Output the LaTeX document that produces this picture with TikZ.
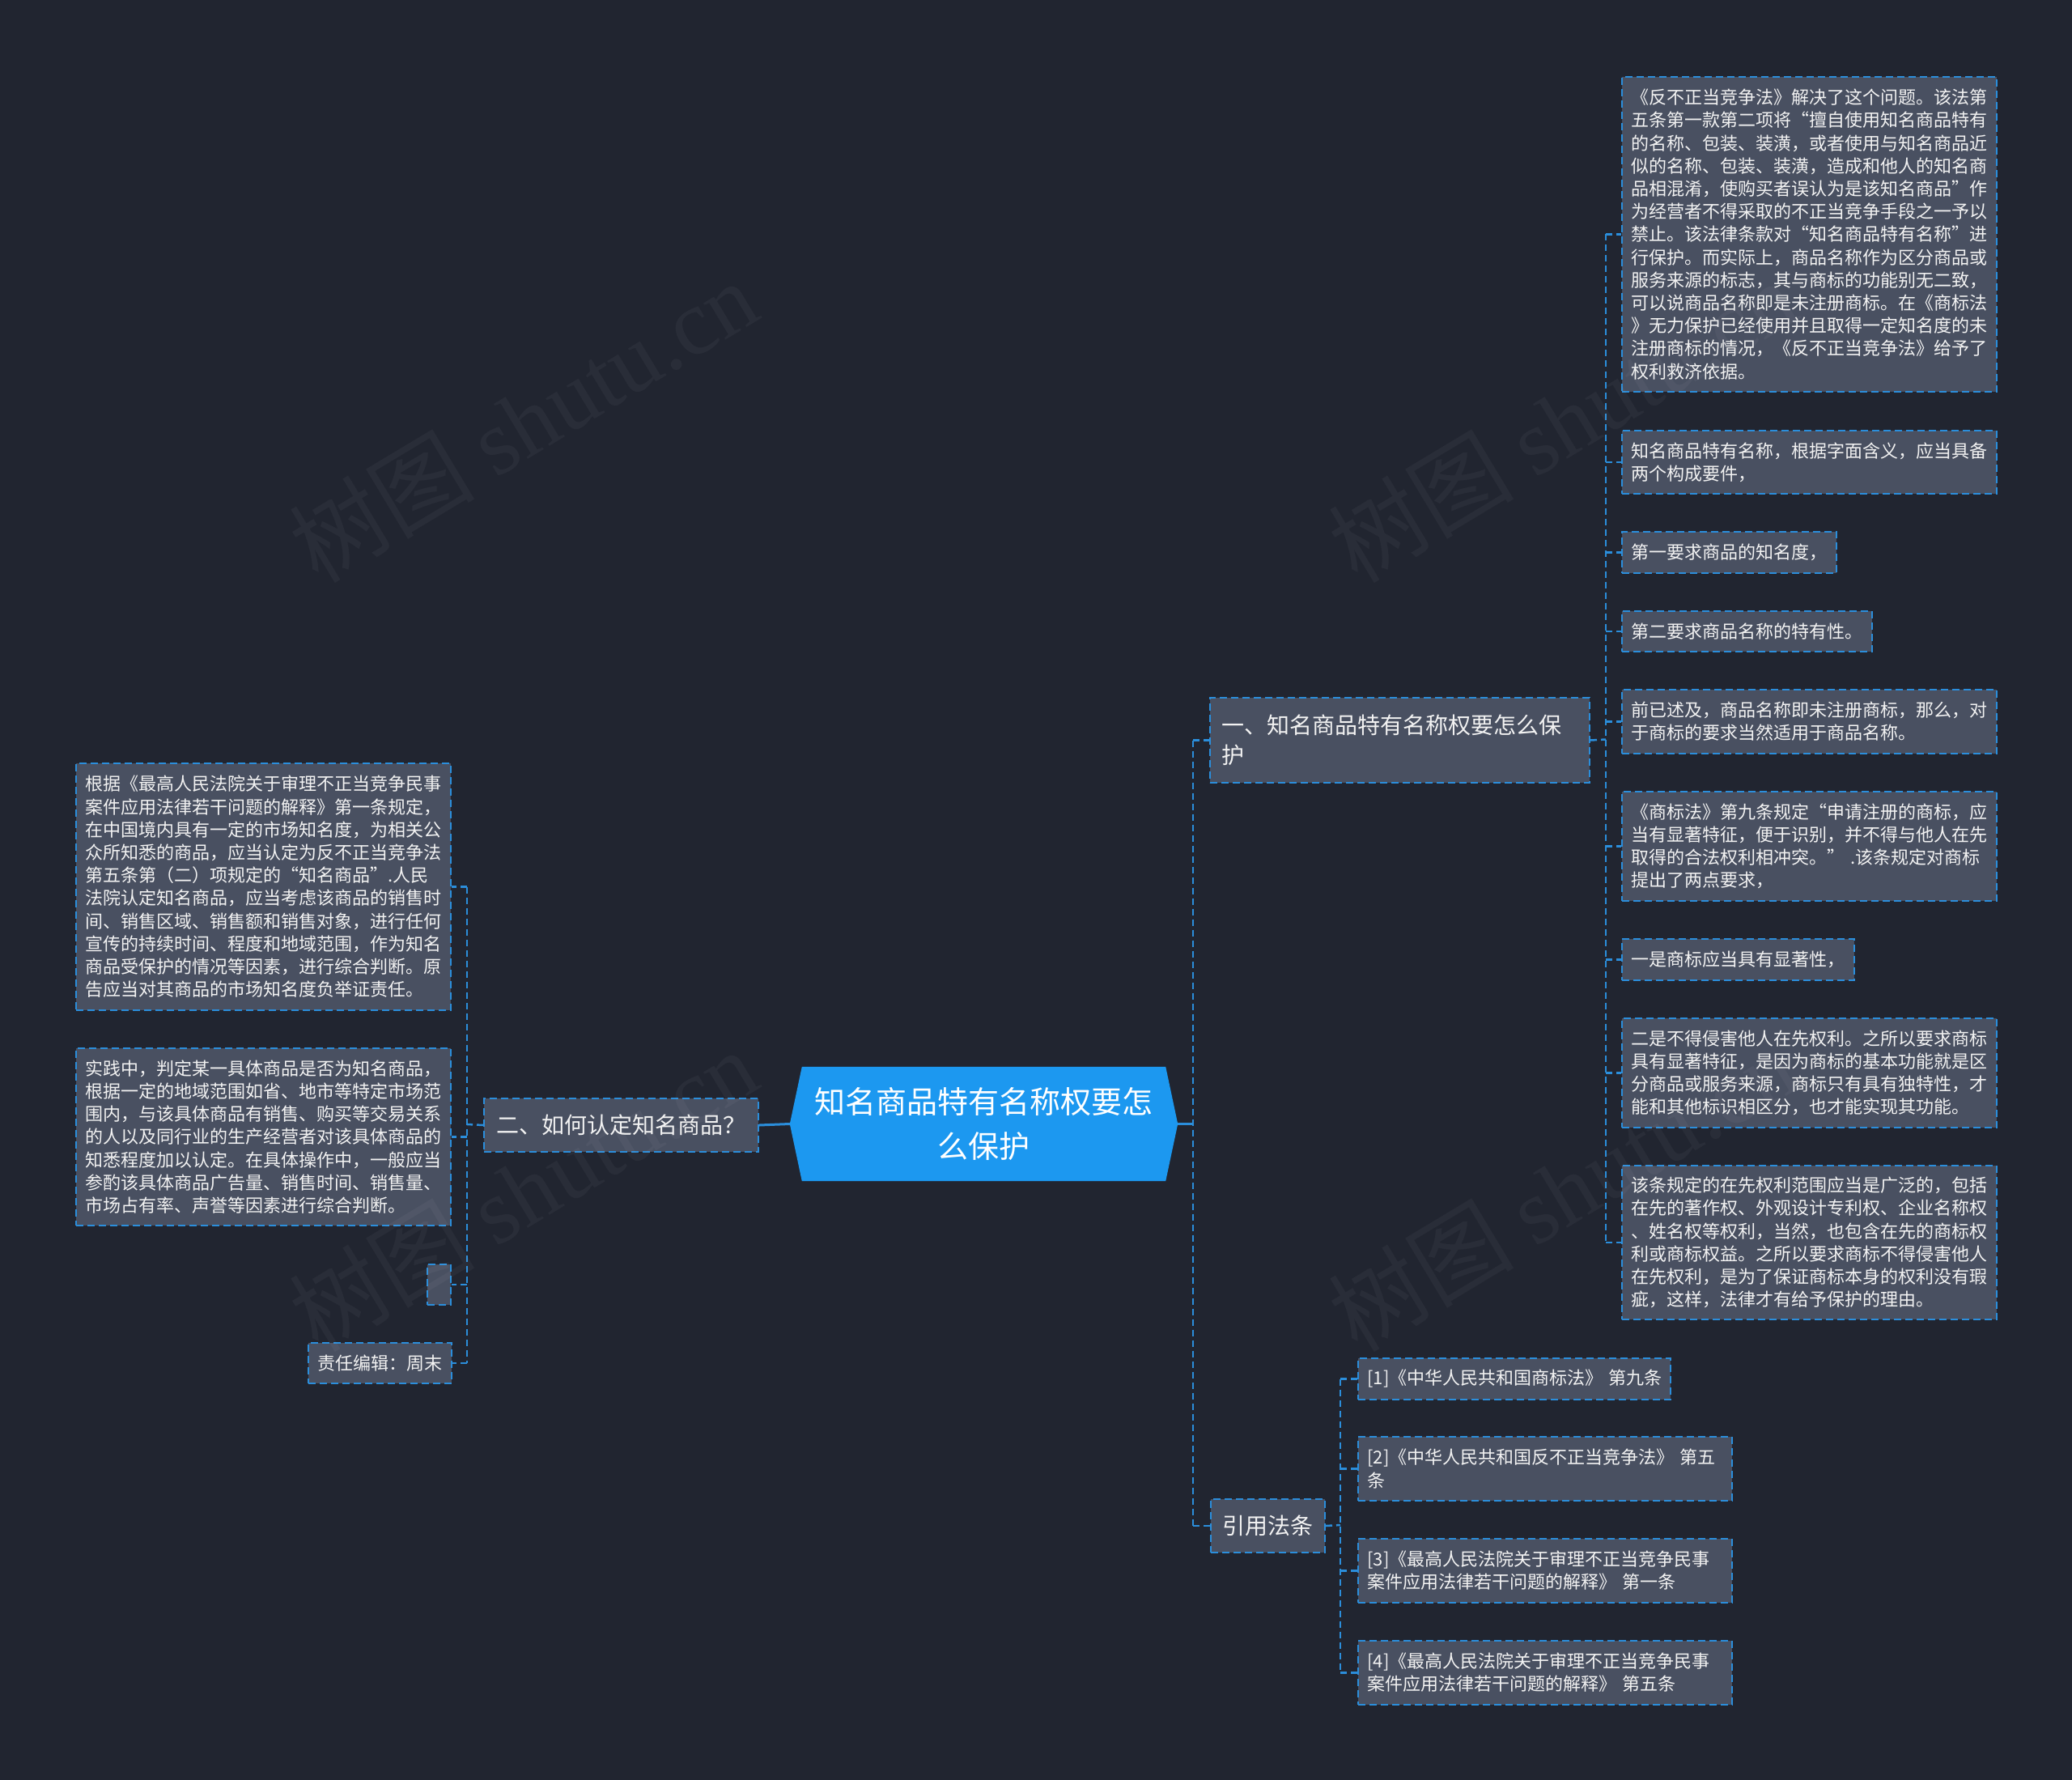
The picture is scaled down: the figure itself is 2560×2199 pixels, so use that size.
\documentclass[tikz,border=0pt]{standalone}
\usepackage{fontspec}
\setmainfont{Noto Sans CJK SC}
\newfontfamily\wmserif{Liberation Serif}
\definecolor{bgc}{HTML}{212530}
\definecolor{boxc}{HTML}{495061}
\definecolor{bord}{HTML}{2B8EDB}
\definecolor{rootc}{HTML}{1C98F0}
\definecolor{txt}{HTML}{F2F2F2}
\pgfdeclarelayer{bglayer}
\pgfsetlayers{bglayer,main}
\begin{document}
\begin{tikzpicture}[x=1pt,y=-1pt,
  leaf/.style={draw=bord, line width=2pt, dash pattern=on 9pt off 5pt, fill=boxc, text=txt,
    font=\fontsize{22pt}{28.2pt}\selectfont, align=left, inner xsep=11.5pt, inner ysep=0pt,
    anchor=north west, text width=440pt},
  mainbox/.style={draw=bord, line width=2pt, dash pattern=on 9pt off 5pt, fill=boxc, text=txt,
    font=\fontsize{28pt}{37.5pt}\selectfont, align=left, inner xsep=14pt, inner ysep=0pt,
    anchor=north west},
  conn/.style={draw=bord, line width=2.5pt, dash pattern=on 8pt off 5pt},
  solidconn/.style={draw=bord, line width=3pt},
  wmark/.style={rotate=31, text=white, opacity=0.04, font=\fontsize{115pt}{120pt}\selectfont}
]
\begin{pgfonlayer}{bglayer}
\fill[bgc] (0,0) rectangle (2560,2199);
\end{pgfonlayer}
\useasboundingbox (0,0) rectangle (2560,2199);

% root
\node[rectangle, minimum width=479pt, minimum height=141pt, inner sep=0pt, text=white,
  align=center, font=\fontsize{38pt}{55pt}\selectfont] (root) at (1215.5,1388.5)
  {知名商品特有名称权要怎\\么保护};
\begin{pgfonlayer}{bglayer}
\fill[rootc] (root.west) -- ([xshift=15pt]root.north west) -- ([xshift=-15pt]root.north east)
  -- (root.east) -- ([xshift=-15pt]root.south east) -- ([xshift=15pt]root.south west) -- cycle;
\end{pgfonlayer}

% main branches
\node[mainbox, text width=441pt, minimum height=105pt] (b1) at (1494,861)
  {一、知名商品特有名称权要怎么保\\护};
\node[mainbox, inner xsep=15pt, text width=309pt, minimum height=66pt] (b2) at (597,1356)
  {二、如何认定知名商品？};
\node[mainbox, text width=113pt, minimum height=66pt] (b3) at (1495,1851)
  {引用法条};

% right children of b1
\node[leaf, minimum height=389pt] (r1) at (2003,94)
  {《反不正当竞争法》解决了这个问题。该法第\\
五条第一款第二项将“擅自使用知名商品特有\\
的名称、包装、装潢，或者使用与知名商品近\\
似的名称、包装、装潢，造成和他人的知名商\\
品相混淆，使购买者误认为是该知名商品”作\\
为经营者不得采取的不正当竞争手段之一予以\\
禁止。该法律条款对“知名商品特有名称”进\\
行保护。而实际上，商品名称作为区分商品或\\
服务来源的标志，其与商标的功能别无二致，\\
可以说商品名称即是未注册商标。在《商标法\\
》无力保护已经使用并且取得一定知名度的未\\
注册商标的情况，《反不正当竞争法》给予了\\
权利救济依据。};
\node[leaf, minimum height=78pt] (r2) at (2003,531)
  {知名商品特有名称，根据字面含义，应当具备\\两个构成要件，};
\node[leaf, text width=242pt, minimum height=51pt] (r3) at (2003,656)
  {第一要求商品的知名度，};
\node[leaf, text width=286pt, minimum height=50pt] (r4) at (2003,754)
  {第二要求商品名称的特有性。};
\node[leaf, minimum height=79pt] (r5) at (2003,851)
  {前已述及，商品名称即未注册商标，那么，对\\于商标的要求当然适用于商品名称。};
\node[leaf, minimum height=135pt] (r6) at (2003,977)
  {《商标法》第九条规定“申请注册的商标，应\\
当有显著特征，便于识别，并不得与他人在先\\
取得的合法权利相冲突。”~.该条规定对商标\\
提出了两点要求，};
\node[leaf, text width=264pt, minimum height=51pt] (r7) at (2003,1159)
  {一是商标应当具有显著性，};
\node[leaf, minimum height=135pt] (r8) at (2003,1257)
  {二是不得侵害他人在先权利。之所以要求商标\\
具有显著特征，是因为商标的基本功能就是区\\
分商品或服务来源，商标只有具有独特性，才\\
能和其他标识相区分，也才能实现其功能。};
\node[leaf, minimum height=190pt] (r9) at (2003,1439)
  {该条规定的在先权利范围应当是广泛的，包括\\
在先的著作权、外观设计专利权、企业名称权\\
、姓名权等权利，当然，也包含在先的商标权\\
利或商标权益。之所以要求商标不得侵害他人\\
在先权利，是为了保证商标本身的权利没有瑕\\
疵，这样，法律才有给予保护的理由。};

% left children of b2
\node[leaf, minimum height=305pt] (l1) at (93,942)
  {根据《最高人民法院关于审理不正当竞争民事\\
案件应用法律若干问题的解释》第一条规定，\\
在中国境内具有一定的市场知名度，为相关公\\
众所知悉的商品，应当认定为反不正当竞争法\\
第五条第（二）项规定的“知名商品”.人民\\
法院认定知名商品，应当考虑该商品的销售时\\
间、销售区域、销售额和销售对象，进行任何\\
宣传的持续时间、程度和地域范围，作为知名\\
商品受保护的情况等因素，进行综合判断。原\\
告应当对其商品的市场知名度负举证责任。};
\node[leaf, minimum height=219pt] (l2) at (93,1294)
  {实践中，判定某一具体商品是否为知名商品，\\
根据一定的地域范围如省、地市等特定市场范\\
围内，与该具体商品有销售、购买等交易关系\\
的人以及同行业的生产经营者对该具体商品的\\
知悉程度加以认定。在具体操作中，一般应当\\
参酌该具体商品广告量、销售时间、销售量、\\
市场占有率、声誉等因素进行综合判断。};
\node[leaf, text width=6pt, minimum height=50pt] (l3) at (527,1561) {};
\node[leaf, text width=154pt, minimum height=50pt] (l4) at (380,1658)
  {责任编辑：周末};

% children of b3
\node[leaf, text width=363pt, minimum height=51pt] (c1) at (1677,1677)
  {\mbox{[1]《中华人民共和国商标法》 第九条}};
\node[leaf, text width=439pt, minimum height=79pt] (c2) at (1677,1774)
  {[2]《中华人民共和国反不正当竞争法》~第五\\条};
\node[leaf, text width=439pt, minimum height=79pt] (c3) at (1677,1900)
  {[3]《最高人民法院关于审理不正当竞争民事\\案件应用法律若干问题的解释》~第一条};
\node[leaf, text width=439pt, minimum height=79pt] (c4) at (1677,2026)
  {[4]《最高人民法院关于审理不正当竞争民事\\案件应用法律若干问题的解释》~第五条};

% connectors: root -> right spine
\coordinate (sp) at (1474,1388.5);
\draw[solidconn] (root.east) -- (sp);
\draw[conn] (sp |- b1.west) -- (sp |- b3.west);
\draw[conn] (sp |- b1.west) -- (b1.west);
\draw[conn] (sp |- b3.west) -- (b3.west);

% root -> left
\draw[solidconn] (root.west) -- (b2.east);
\coordinate (lsp) at (577,1389);
\draw[conn] (b2.west) -- (lsp);
\draw[conn] (lsp |- l1.east) -- (lsp |- l4.east);
\foreach \n in {l1,l2,l3,l4} \draw[conn] (lsp |- \n.east) -- (\n.east);

% b1 -> children
\coordinate (rsp) at (1984,913.5);
\draw[conn] (b1.east) -- (rsp);
\draw[conn] (rsp |- r1.west) -- (rsp |- r9.west);
\foreach \n in {r1,r2,r3,r4,r5,r6,r7,r8,r9} \draw[conn] (rsp |- \n.west) -- (\n.west);

% b3 -> children
\coordinate (csp) at (1656,1884);
\draw[conn] (b3.east) -- (csp);
\draw[conn] (csp |- c1.west) -- (csp |- c4.west);
\foreach \n in {c1,c2,c3,c4} \draw[conn] (csp |- \n.west) -- (\n.west);

% watermarks
\node[wmark] (wm1) at (646,520) {树图 {\wmserif shutu.cn}};
\node[wmark] (wm2) at (1930,520) {树图 {\wmserif shutu.cn}};
\node[wmark] (wm3) at (646,1470) {树图 {\wmserif shutu.cn}};
\node[wmark] (wm4) at (1930,1470) {树图 {\wmserif shutu.cn}};
\end{tikzpicture}
\end{document}
